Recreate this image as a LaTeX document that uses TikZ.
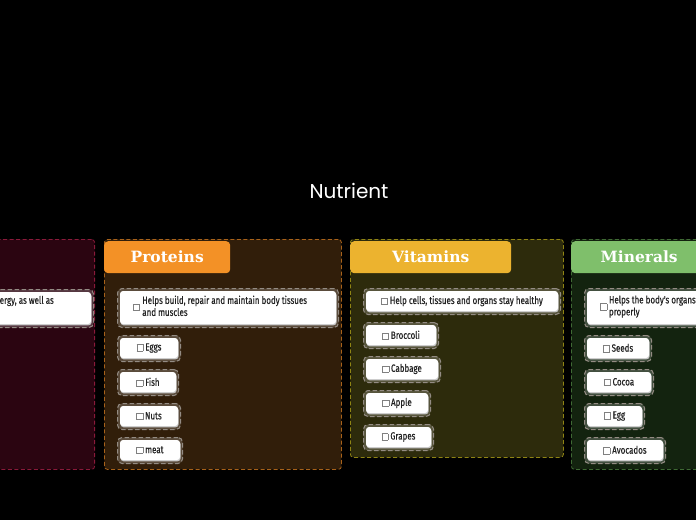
\documentclass[tikz,border=0pt]{standalone}
\usepackage{fontspec}
\setmainfont{Fira Sans}
\newfontfamily\itemfont[FakeStretch=0.76,FakeBold=0.4]{Fira Sans}
\newfontfamily\headfont{DejaVu Serif}
\newfontfamily\titlefont{Poppins}
\usetikzlibrary{calc}
\definecolor{redP}{HTML}{2B0511}
\definecolor{redB}{HTML}{8A1A3A}
\definecolor{protP}{HTML}{311E0A}
\definecolor{protB}{HTML}{A8621A}
\definecolor{protH}{HTML}{F39126}
\definecolor{vitP}{HTML}{2D2B0C}
\definecolor{vitB}{HTML}{8F8414}
\definecolor{vitH}{HTML}{ECB32F}
\definecolor{minP}{HTML}{13230F}
\definecolor{minB}{HTML}{3F6A34}
\definecolor{minH}{HTML}{7FBF6B}
\definecolor{dashG}{HTML}{948C84}
\definecolor{txtG}{HTML}{222222}
\newcommand\cbx{{\setlength\fboxsep{0.6pt}\setlength\fboxrule{0.5pt}\raisebox{0.6pt}{\fcolorbox{gray}{white}{\rule{0pt}{4.6pt}\rule{4.6pt}{0pt}}}}}
\newcommand\entry[6]{%
  \node[frame, anchor=north west, minimum width={#4-#2}, minimum height={#5-#3}] (#1f) at (#2,#3) {};
  \node[cardshadow, minimum width={#4-#2-5}, minimum height={#5-#3-6}] (#1s) at ($(#1f.center)+(0.6,0.8)$) {};
  \node[card, minimum width={#4-#2-5}, minimum height={#5-#3-6}] (#1) at ($(#1f.center)+(0,-0.5)$) {#6};
}
\tikzset{
  panel/.style={draw, dashed, dash pattern=on 4pt off 2.5pt, line width=0.8pt, rounded corners=3pt, inner sep=0pt},
  header/.style={rounded corners=4pt, inner sep=0pt, text=white, font=\headfont\bfseries\fontsize{15.5}{18}\selectfont},
  frame/.style={draw=dashG, dashed, dash pattern=on 4.5pt off 2.5pt, line width=1pt, fill=white, fill opacity=0.2, draw opacity=1, rounded corners=4.5pt, inner sep=0pt},
  cardshadow/.style={fill=gray!45, rounded corners=3pt, inner sep=0pt},
  card/.style={fill=white, rounded corners=3pt, inner sep=0pt, text=txtG, font=\itemfont\fontsize{10.5}{12}\selectfont},
  itemtxt/.style={inner sep=0pt, text=txtG, font=\itemfont\fontsize{10.5}{12}\selectfont, align=left}
}
\begin{document}
\begin{tikzpicture}[x=1pt,y=-1pt]
\useasboundingbox (0,0) rectangle (696,520);
\clip (0,0) rectangle (696,520);
\fill[black] (0,0) rectangle (696,520);

\node[text=white, font=\titlefont\fontsize{20}{24}\selectfont, inner sep=0pt] (title) at (349,191) {Nutrient};

% left (cut) panel
\node[panel, draw=redB, fill=redP, anchor=north east, minimum width=240, minimum height=230] (carbs) at (95,239) {};
\entry{carbdesc}{-150}{289}{93}{327}{}
\node[itemtxt, anchor=west] (carbtxt) at (-0.5,301) {ergy, as well as};

% proteins
\node[panel, draw=protB, fill=protP, anchor=north west, minimum width=237, minimum height=230] (proteins) at (104,239) {};
\node[header, fill=protH, anchor=north west, minimum width=126, minimum height=32] (protHead) at (104,241) {Proteins};
\entry{protdesc}{117}{288}{338}{327}{\cbx\hspace{2.5pt}\begin{tabular}[c]{@{}l@{}}Helps build, repair and maintain body tissues\\and muscles\end{tabular}\hspace*{16pt}}
\entry{eggs}{117}{335}{180}{361}{\cbx\hspace{2pt}Eggs}
\entry{fish}{117}{369}{178}{395}{\cbx\hspace{2pt}Fish}
\entry{nuts}{117}{403}{180}{429}{\cbx\hspace{2pt}Nuts}
\entry{meat}{117}{437}{182}{463}{\cbx\hspace{2pt}meat}

% vitamins
\node[panel, draw=vitB, fill=vitP, anchor=north west, minimum width=213, minimum height=218] (vitamins) at (350,239) {};
\node[header, fill=vitH, anchor=north west, minimum width=161, minimum height=32] (vitHead) at (350,241) {Vitamins};
\entry{vitdesc}{363}{288}{560}{314}{\cbx\hspace{2pt}Help cells, tissues and organs stay healthy}
\entry{broccoli}{363}{322}{438}{348}{\cbx\hspace{2pt}Broccoli}
\entry{cabbage}{363}{356}{440}{382}{\cbx\hspace{2pt}Cabbage}
\entry{apple}{363}{390}{430}{416}{\cbx\hspace{2pt}Apple}
\entry{grapes}{363}{424}{433}{450}{\cbx\hspace{2pt}Grapes}

% minerals
\node[panel, draw=minB, fill=minP, anchor=north west, minimum width=200, minimum height=230] (minerals) at (571,239) {};
\node[header, fill=minH, anchor=north west, minimum width=136, minimum height=32] (minHead) at (571,241) {Minerals};
\entry{mindesc}{584}{288}{800}{327}{}
\node[itemtxt, anchor=west] (mintxt) at (600,307) {\cbx\hspace{2pt}\begin{tabular}[c]{@{}l@{}}Helps the body's organs\\properly\end{tabular}};
\entry{seeds}{584}{335}{651}{361}{\cbx\hspace{2pt}Seeds}
\entry{cocoa}{584}{369}{653}{395}{\cbx\hspace{2pt}Cocoa}
\entry{egg}{584}{403}{644}{429}{\cbx\hspace{2pt}Egg}
\entry{avocados}{584}{437}{665}{463}{\cbx\hspace{2pt}Avocados}
\end{tikzpicture}
\end{document}
